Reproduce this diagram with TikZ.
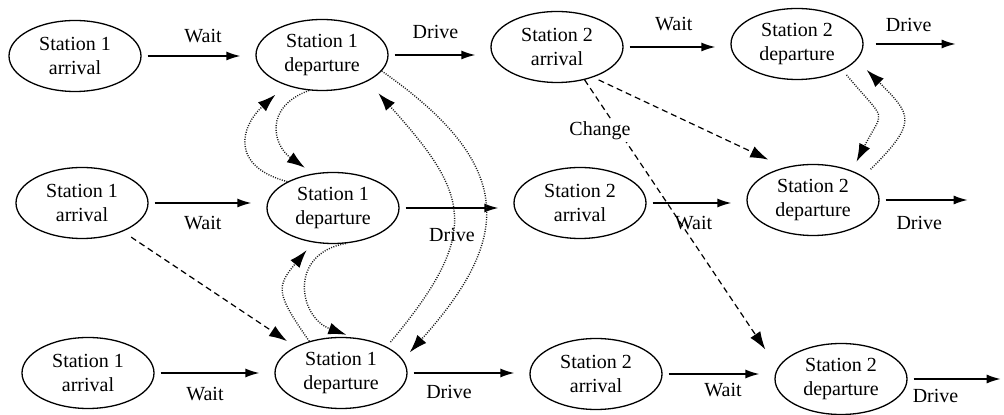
\documentclass[tikz,border=0pt]{standalone}
\usepackage{fontspec}
\setmainfont{Liberation Serif}
\usetikzlibrary{arrows.meta,shapes.geometric}

\begin{document}
\begin{tikzpicture}[x=0.5pt,y=-0.5pt,
    st/.style={draw,ellipse,line width=0.65pt,minimum width=66pt,minimum height=35.5pt,inner sep=1pt,align=center},
    flow/.style={-{Latex[length=7pt,width=4.5pt]},line width=0.7pt,shorten <=3pt,shorten >=7.5pt},
    outflow/.style={flow,shorten >=0pt},
    lbl/.style={inner sep=0pt},
    chg/.style={-{Latex[length=9pt,width=6pt]},line width=0.6pt,dash pattern=on 3pt off 2pt},
    dotcurve/.style={-{Latex[length=9pt,width=6pt,color=black]},line width=0.7pt,black!90,dash pattern=on 0.5pt off 0.7pt}]
    \useasboundingbox (0,0) rectangle (1004,415);
    \node[st] (s1a1) at (75,56) {Station 1\\arrival};
    \node[st] (s1d1) at (322,55) {Station 1\\departure};
    \node[st] (s2a1) at (557,47) {Station 2\\arrival};
    \node[st] (s2d1) at (797,44) {Station 2\\departure};
    \node[st] (s1a2) at (82,203) {Station 1\\arrival};
    \node[st] (s1d2) at (333,208) {Station 1\\departure};
    \node[st] (s2a2) at (580,203) {Station 2\\arrival};
    \node[st] (s2d2) at (813,200) {Station 2\\departure};
    \node[st] (s1a3) at (88,373) {Station 1\\arrival};
    \node[st] (s1d3) at (341,373) {Station 1\\departure};
    \node[st] (s2a3) at (596,374) {Station 2\\arrival};
    \node[st] (s2d3) at (841,379) {Station 2\\departure};
    \coordinate (o1) at ([xshift=46pt]s2d1.east);
    \coordinate (o2) at ([xshift=44pt]s2d2.east);
    \coordinate (o3) at ([xshift=46.5pt]s2d3.east);

    \draw[flow] (s1a1.east) -- node[lbl,pos=0.54,above=6.2pt] (w11) {Wait} (s1a1.east -| s1d1.west);
    \draw[flow] (s1d1.east) -- node[lbl,pos=0.46,above=7.7pt] (d11) {Drive} (s1d1.east -| s2a1.west);
    \draw[flow] (s2a1.east) -- node[lbl,pos=0.47,above=7.7pt] (w21) {Wait} (s2a1.east -| s2d1.west);
    \draw[outflow,shorten <=6pt] (s2d1.east) -- node[lbl,pos=0.49,above=5.7pt] (d21) {Drive} (o1);

    \draw[flow] (s1a2.east) -- node[lbl,pos=0.46,below=6.2pt] (w12) {Wait} (s1a2.east -| s1d2.west);
    \draw[flow] (s1d2.east) -- node[lbl,pos=0.46,below=9.7pt] (d12) {Drive} (s1d2.east -| s2a2.west);
    \draw[flow] (s2a2.east) -- node[lbl,pos=0.47,below=6.2pt] (w22) {Wait} (s2a2.east -| s2d2.west);
    \draw[outflow] (s2d2.east) -- node[lbl,pos=0.45,below=7.7pt] (d22) {Drive} (o2);

    \draw[flow] (s1a3.east) -- node[lbl,pos=0.42,below=6.7pt] (w13) {Wait} (s1a3.east -| s1d3.west);
    \draw[flow] (s1d3.east) -- node[lbl,pos=0.34,below=5.7pt] (d13) {Drive} (s1d3.east -| s2a3.west);
    \draw[flow] (s2a3.east) -- node[lbl,pos=0.54,below=4.2pt] (w23) {Wait} (s2a3.east -| s2d3.west);
    \draw[outflow] (s2d3.east) -- node[lbl,pos=0.3,below=4.7pt] (d23) {Drive} (o3);

    \draw[chg,shorten <=5pt,shorten >=5pt] (s1a2.325) -- (s1d3.150);
    \draw[chg,shorten <=3pt,shorten >=9pt] (s2a1.320) -- (s2d2.131);
    \draw[chg,shorten >=11pt] (s2a1.310) -- node[lbl,pos=0.178,xshift=-9.5pt,fill=white,inner sep=1pt] (chg1) {Change} (s2d3.170);

    \draw[dotcurve,shorten >=5pt] (s1d1.250) to[out=200,in=145,looseness=1.5] (s1d2.120);
    \draw[dotcurve,shorten >=7pt] (s1d2.150) to[out=165,in=222,looseness=1.6] (s1d1.220);
    \draw[dotcurve,shorten >=4pt] (s1d2.290) to[out=190,in=160,looseness=1.6] (s1d3.70);
    \draw[dotcurve,shorten >=5pt] (s1d3.135) to[out=125,in=230,looseness=1.5] (s1d2.240);
    \draw[dotcurve,shorten <=3pt,shorten >=8pt] (s1d3.30) to[out=50,in=312,looseness=1.45] (s1d1.330);
    \draw[dotcurve,shorten >=5pt] (s1d1.345) to[out=-35,in=48,looseness=1.45] (s1d3.12);
    \draw[dotcurve,shorten <=3pt,shorten >=5pt] (s2d1.330) to[out=-50,in=63,looseness=1.8] (s2d2.37);
    \draw[dotcurve,shorten <=5pt,shorten >=7pt] (s2d2.25) to[out=45,in=-45,looseness=1.7] (s2d1.345);
\end{tikzpicture}
\end{document}
